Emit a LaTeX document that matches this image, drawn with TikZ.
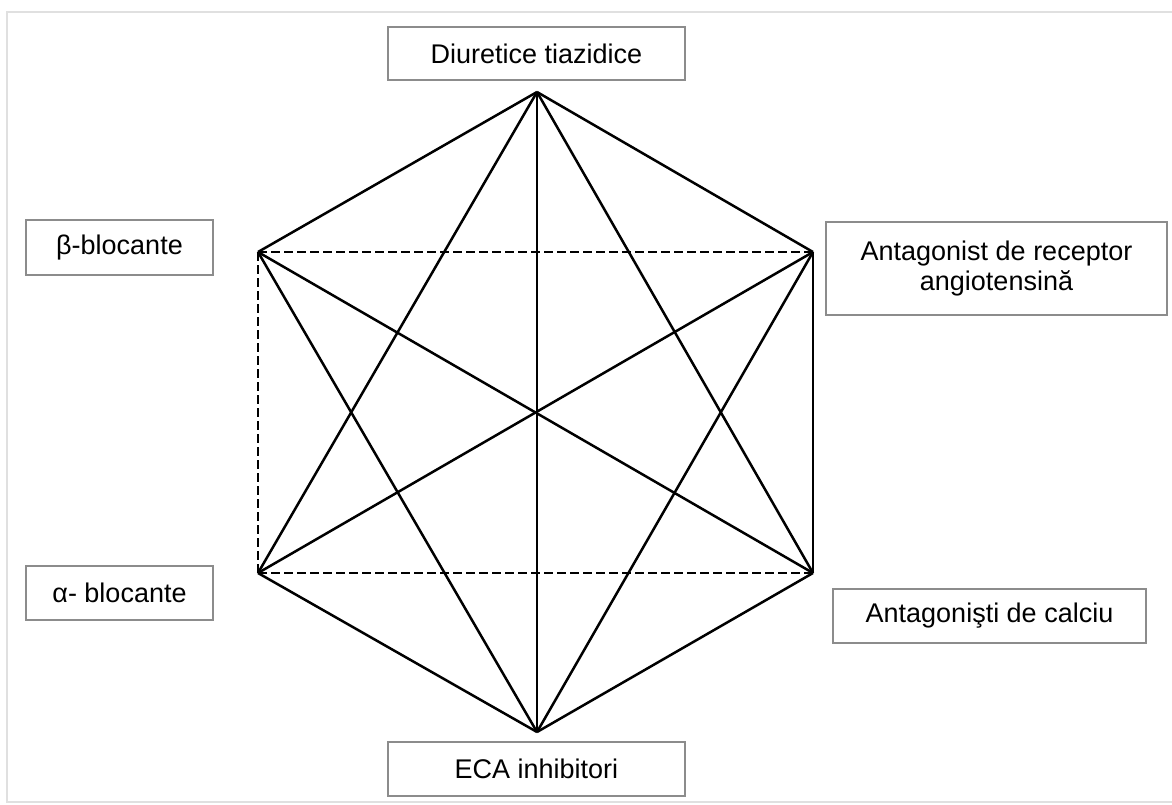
\documentclass[tikz,border=0pt]{standalone}
\usepackage{fontspec}
\setmainfont{Liberation Sans}
\usetikzlibrary{positioning}

\begin{document}
\begin{tikzpicture}[x=1pt, y=-1pt,
box/.style={draw=black!45, line width=1.8pt, align=center, inner sep=0pt,
font=\fontsize{27}{30}\selectfont},
link/.style={line width=2.5pt},
dashlink/.style={line width=2.5pt, dash pattern=on 9pt off 4pt}]
\useasboundingbox (0,0) rectangle (1172,804);
\draw [black!12, line width=2pt] (1172,12) -- (7,12) -- (7,802) -- (1172,802);
\coordinate (v_0) at (537,92);
\coordinate (v_1) at (813,252);
\coordinate (v_2) at (813,573);
\coordinate (v_3) at (537,732);
\coordinate (v_4) at (258,573);
\coordinate (v_5) at (258,252);
\node [box, minimum width=297pt, minimum height=53pt] (diur) at (536.5,53.5) {Diuretice tiazidice};
\node [box, minimum width=187pt, minimum height=55pt] (beta) at (119.5,247.5) {β-blocante};
\node [box, minimum width=341pt, minimum height=93pt] (ara) at (996.5,268.5) {Antagonist de receptor\\angiotensină};
\node [box, minimum width=187pt, minimum height=54pt] (alfa) at (119.5,593) {α- blocante};
\node [box, minimum width=313pt, minimum height=54pt] (calc) at (989.5,616) {Antagonişti de calciu};
\node [box, minimum width=297pt, minimum height=54pt] (eca) at (536.5,769) {ECA inhibitori};
\path [link]
(v_0) edge (v_1) edge (v_2) edge (v_3) edge (v_4) edge (v_5)
(v_1) edge (v_2) edge (v_3) edge (v_4)
(v_2) edge (v_3) edge (v_5)
(v_3) edge (v_4) edge (v_5);
\path [dashlink]
(v_5) edge (v_1) edge (v_4)
(v_4) edge (v_2);
\end{tikzpicture}
\end{document}
